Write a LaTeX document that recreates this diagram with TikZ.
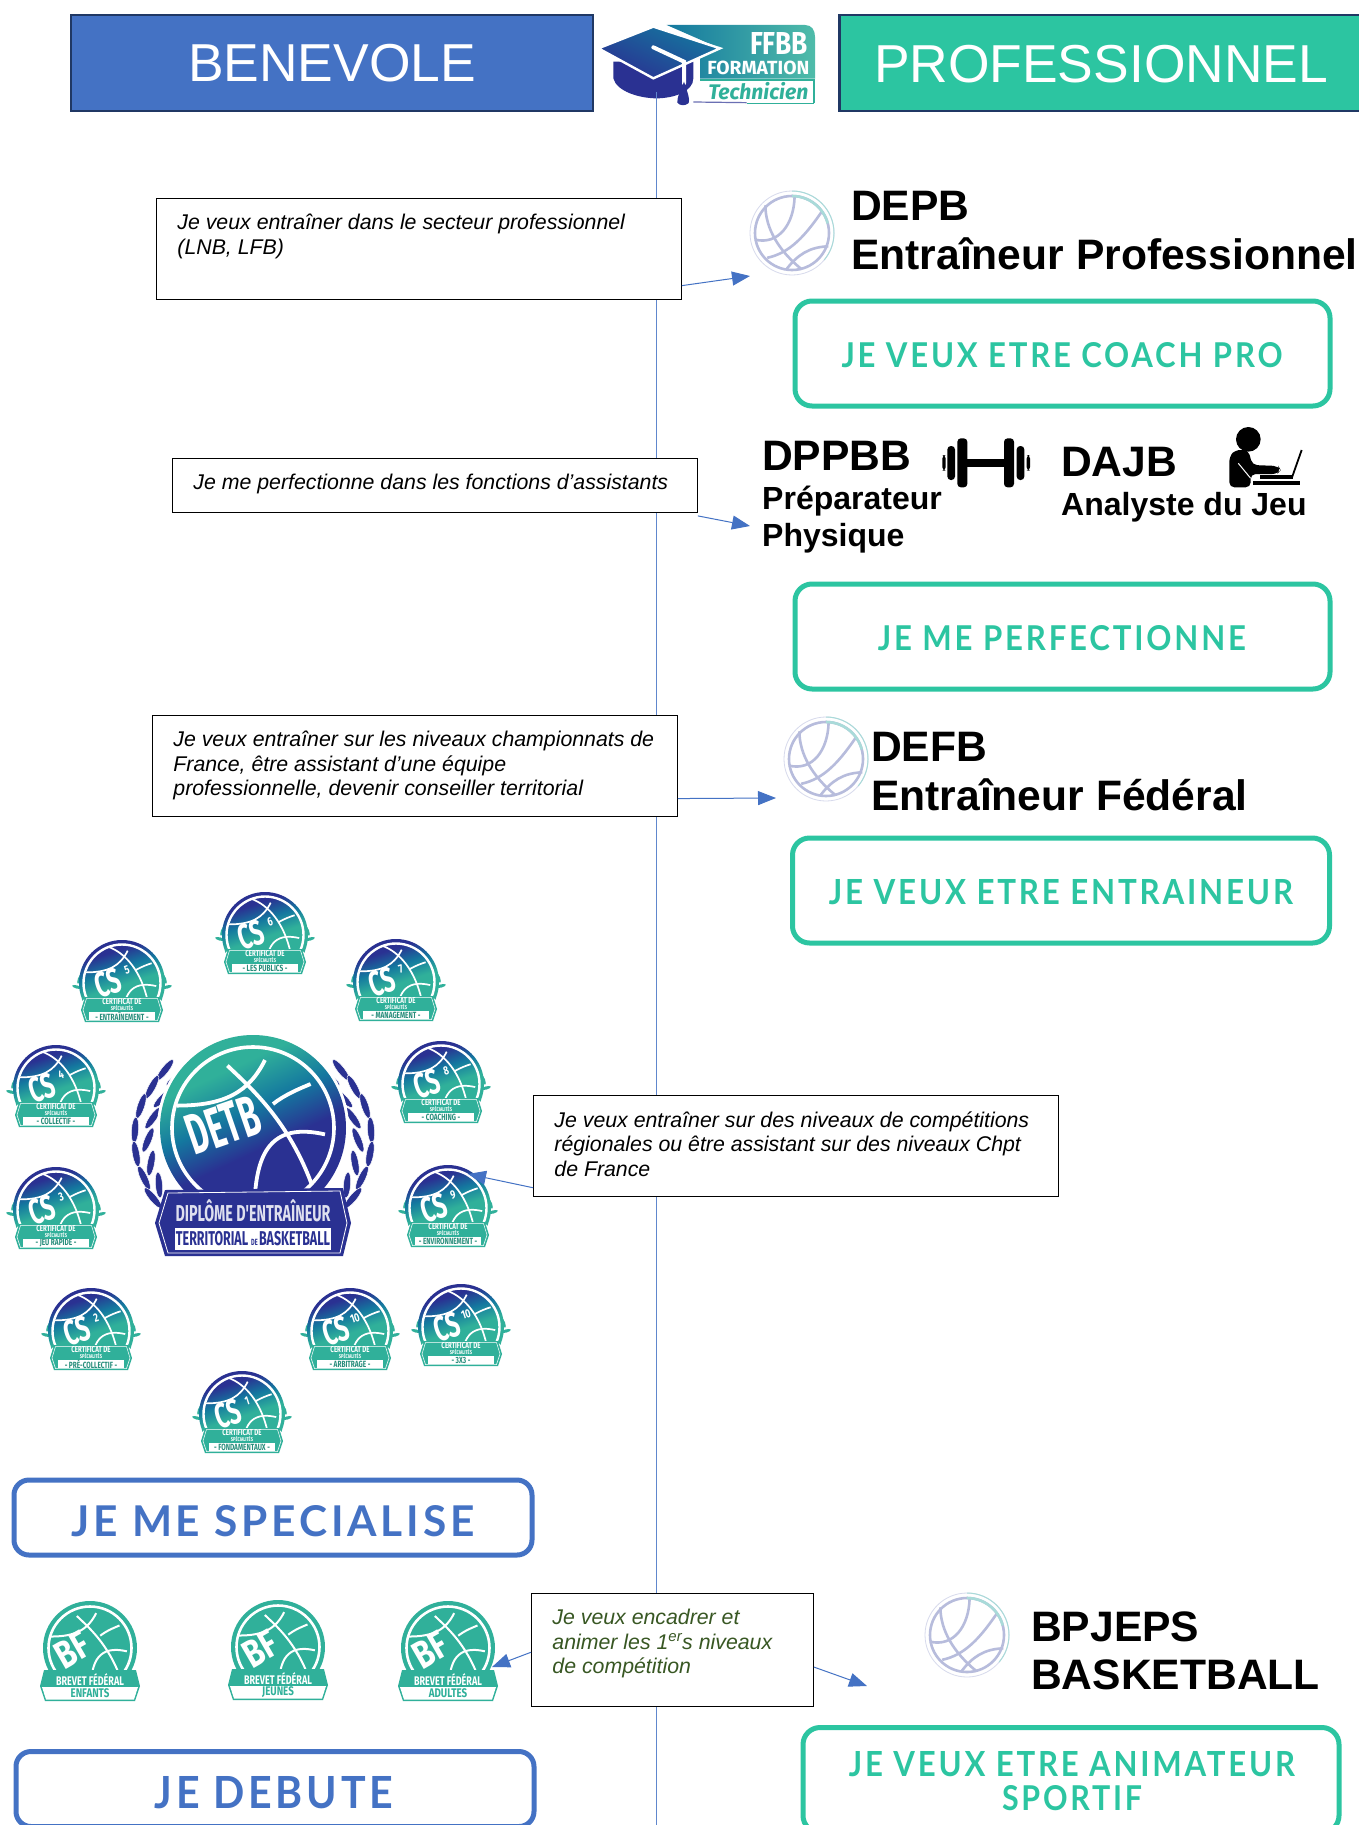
\documentclass[tikz,border=0pt]{standalone}
\usepackage{fontspec}
\usepackage{graphicx}
\usetikzlibrary{arrows.meta,calc}
\setmainfont{Liberation Sans}
\newfontfamily\btnf[LetterSpace=9]{Lato}
\newfontfamily\cond{Fira Sans}
\definecolor{hblue}{HTML}{4472C4}
\definecolor{hteal}{HTML}{2CC5A1}
\definecolor{hdark}{HTML}{203864}
\definecolor{bteal}{HTML}{30B09A}
\definecolor{bnavy}{HTML}{2A3192}
\definecolor{bmid}{HTML}{14789F}
\definecolor{gball}{HTML}{B7BCDC}
\definecolor{gteal}{HTML}{A9DBD9}
\definecolor{lgreen}{HTML}{385723}
\pgfdeclareverticalshading{csshade}{100bp}{color(0bp)=(bteal); color(49bp)=(bteal); color(59bp)=(bmid); color(69bp)=(bnavy); color(100bp)=(bnavy)}
\pgfdeclareverticalshading{detbshade}{100bp}{color(0bp)=(bnavy); color(44bp)=(bnavy); color(55bp)=(bmid); color(67bp)=(bteal); color(100bp)=(bteal)}
\newcommand{\fit}[3]{\resizebox{#1pt}{#2pt}{\btnf\bfseries #3}}
\newcommand{\fitw}[3]{\resizebox{#1pt}{\height}{\cond\fontsize{#2}{#2}\selectfont\bfseries #3}}
\newcommand{\mylabel}[2]{\scalebox{.72}[1]{\cond\fontsize{#1}{#1}\selectfont\bfseries #2}}
\newcommand{\ballseams}{%
  (-.32,-.78) .. controls (-.05,-.52) and (.45,-.1) .. (.75,.75)
  (.15,-.85) .. controls (-.05,-.45) and (-.35,-.28) .. (-.95,-.28)
  (.25,-.30) .. controls (.4,-.42) and (.6,-.5) .. (.72,-.55)
  (.02,.9) .. controls (.05,.35) and (.2,-.08) .. (.9,.08)}
\newcommand{\csseams}{%
  (-.35,-.95) .. controls (.05,-.8) and (.55,-.35) .. (.72,.7)
  (.15,-.85) .. controls (-.05,-.45) and (-.35,-.28) .. (-.95,-.28)
  (.38,-.35) .. controls (.5,-.42) and (.65,-.48) .. (.78,-.52)
  (.02,.9) .. controls (.05,.35) and (.2,-.08) .. (.9,.08)}
% CS badge: #1 name, #2 x, #3 y, #4 number, #5 label
\newcommand{\csbadge}[5]{%
\begin{scope}[shift={(#2,#3)}]
  \foreach \s in {-1,1}{
    \fill[bteal,rotate around={\s*15:(\s*45,4)}] (\s*45,4) ellipse (5 and 1.6);
    \fill[bteal,rotate around={\s*-70:(\s*42.5,-4)}] (\s*42.5,-4) ellipse (5 and 1.6);
    \fill[bteal,rotate around={\s*-75:(\s*38,12)}] (\s*38,12) ellipse (6 and 1.4);
  }
  \begin{scope}
    \clip (-50,-50) rectangle (50,15);
    \path[shading=csshade,shading angle=18] (0,0) circle (43);
    \draw[white,line width=2.4] (0,0) circle (38.5);
    \begin{scope}
      \clip (0,0) circle (38);
      \draw[white,line width=1.7,scale=38] \csseams;
    \end{scope}
  \end{scope}
  \fill[bteal] (-37,14) -- (37,14) -- (41,27) -- (37,39) -- (-37,39) -- (-41,27) -- cycle;
  \draw[white,line width=.5] (-35.5,15.5) -- (35.5,15.5) -- (39,27) -- (35.5,37.5) -- (-35.5,37.5) -- (-39,27) -- cycle;
  \fill[white] (-33,29) rectangle (33,37);
  \node[text=white,rotate=18,inner sep=0] (#1cs) at (-14,0) {\resizebox{26pt}{25pt}{\cond\bfseries CS}};
  \node[text=white,rotate=18,inner sep=0] (#1num) at (5,-13) {\scalebox{.75}[1]{\cond\fontsize{12}{12}\selectfont\bfseries #4}};
  \node[text=white,inner sep=0] (#1a) at (0,19) {\mylabel{8.5}{CERTIFICAT DE}};
  \node[text=white,inner sep=0] (#1b) at (0,25.3) {\mylabel{5.5}{SPÉCIALITÉS}};
  \node[text=bteal!80!black,inner sep=0] (#1c) at (0,33) {\mylabel{9}{- #5 -}};
\end{scope}}
% BF badge
\newcommand{\bfbadge}[4]{%
\begin{scope}[shift={(#2,#3)}]
  \begin{scope}
    \clip (-50,-50) rectangle (50,24);
    \fill[bteal] (0,0) circle (47);
    \draw[white,line width=2.6] (0,0) circle (41.5);
    \begin{scope}
      \clip (0,0) circle (41);
      \draw[white,line width=2,scale=41] \ballseams;
    \end{scope}
  \end{scope}
  \fill[bteal] (-46,22) -- (46,22) -- (50,38) -- (45,53) -- (-45,53) -- (-50,38) -- cycle;
  \fill[white] (-48,39) -- (48,39) -- (44,51.5) -- (-44,51.5) -- cycle;
  \node[text=white,rotate=30,inner sep=0] (#1bf) at (-18,2) {\resizebox{34pt}{27pt}{\cond\bfseries BF}};
  \node[text=white,inner sep=0] (#1a) at (0,31.5) {\mylabel{12.5}{BREVET FÉDÉRAL}};
  \node[text=bteal,inner sep=0] (#1b) at (0,45.5) {\scalebox{.78}[1]{\cond\fontsize{12.5}{12.5}\selectfont\bfseries #4}};
\end{scope}}
% pale ball
\newcommand{\paleball}[2]{%
\begin{scope}[shift={(#1,#2)}]
  \draw[gball!55,line width=.8] (0,0) circle (42);
  \draw[gball,line width=2.6] (0,0) circle (37);
  \draw[gteal,line width=1] (0,-42) arc[start angle=270,end angle=400,radius=42];
  \draw[gball,line width=2.6,scale=37]
    (-.72,-.75) .. controls (-.72,-.13) and (-.36,.48) .. (.26,.98)
    (.07,-.98) .. controls (.05,-.24) and (-.36,.33) .. (-1,.18)
    (.82,-.6) .. controls (.36,.07) and (-.05,.54) .. (-.67,.67)
    (-.15,.98) .. controls (.15,.59) and (.46,.38) .. (.98,.36);
  \draw[gteal,line width=2.6] (0,-37) arc[start angle=270,end angle=345,radius=37];
\end{scope}}
\tikzset{
  headbox/.style={draw=hdark,line width=2.8pt,inner sep=0,text=white,font=\fontsize{53.4}{53.4}\selectfont},
  tbox/.style={draw=black,fill=white,line width=.9pt,inner sep=0,anchor=north west},
  tealbtn/.style={draw=hteal,line width=5pt,rounded corners=17pt,inner sep=0},
  bluebtn/.style={draw=hblue,line width=5pt,rounded corners=15pt,inner sep=0},
  conn/.style={draw=hblue,line width=1pt,-{Triangle[length=18pt,width=14pt,fill=hblue]}},
  headtxt/.style={anchor=base west,inner sep=0,font=\bfseries\fontsize{42.6}{42.6}\selectfont},
  subtxt/.style={anchor=base west,inner sep=0,font=\bfseries\fontsize{32}{32}\selectfont},
}
\newcommand{\tboxt}[3]{\parbox[c][#1pt][t]{#2pt}{\vspace{16pt}\hspace*{21pt}\parbox[t]{#2pt}{\fontsize{21.3}{24.5}\selectfont\itshape\raggedright #3}}}
\begin{document}
\begin{tikzpicture}[x=1pt,y=-1pt]
\useasboundingbox[fill=white] (0,0) rectangle (1359,1825);
% ---------- logo
\begin{scope}[shift={(560,0)},x=.33333pt,y=-.33333pt]
  \path[left color=bmid,right color=bteal!85!white,rounded corners=0] (320,75) -- (735,75) .. controls (755,75) and (765,90) .. (765,110) -- (765,236) -- (420,236) -- (420,170) -- (480,145) -- cycle;
  \draw[bteal,line width=1.2pt,fill=white] (420,240) -- (762,240) -- (762,310);
  \draw[bteal,line width=1.2pt] (762,310) -- (560,310);
  \draw[bnavy!70,line width=1.2pt] (560,308) -- (400,306);
  \fill[bnavy] (160,185) -- (160,235) .. controls (170,275) and (240,295) .. (290,295) .. controls (340,295) and (400,275) .. (400,235) -- (400,185) -- cycle;
  \path[draw=white,line width=2.4pt,top color=bmid,bottom color=bnavy,shading angle=-25] (115,145) -- (280,80) -- (480,145) -- (280,235) -- cycle;
  \draw[white,line width=4pt,line cap=round] (280,142) -- (372,185) -- (372,250);
  \fill[bnavy] (372,245) .. controls (380,270) and (392,300) .. (385,310) .. controls (375,318) and (360,318) .. (352,308) .. controls (350,295) and (362,270) .. (372,245) -- cycle;
  \node[text=white,inner sep=0] (lgffbb) at (657,132) {\resizebox{58pt}{22pt}{\cond\bfseries FFBB}};
  \node[text=white,inner sep=0] (lgform) at (595,205) {\resizebox{102pt}{13.5pt}{\cond\bfseries FORMATION}};
  \node[text=bteal,inner sep=0] (lgtech) at (595,272) {\resizebox{100pt}{!}{\cond\bfseries\itshape Technicien}};
\end{scope}
% ---------- central line
\coordinate (linetop) at (656,92);
\coordinate (linebot) at (656,1825);
\draw[hblue!85,line width=.9pt] (linetop) -- (linebot);
% ---------- headers
\node[headbox,fill=hblue,minimum width=522,minimum height=96] (benevole) at (332,63) {\raisebox{-1pt}{BENEVOLE}};
\node[headbox,fill=hteal,minimum width=540,minimum height=96,anchor=west] (probox) at (838,63) {};
\node[inner sep=0,text=white,font=\fontsize{53.4}{53.4}\selectfont] (protxt) at (1101,64) {PROFESSIONNEL};
% ---------- text boxes
\node[tbox] (tb1) at (156,198) {\tboxt{101}{525}{Je veux entraîner dans le secteur professionnel\\(LNB, LFB)}};
\node[tbox] (tb2) at (172,458) {\tboxt{54}{525}{Je me perfectionne dans les fonctions d’assistants}};
\node[tbox] (tb3) at (152,715) {\tboxt{101}{525}{Je veux entraîner sur les niveaux championnats de\\France, être assistant d’une équipe\\professionnelle, devenir conseiller territorial}};
\node[tbox] (tb4) at (533,1095) {\tboxt{101}{525}{Je veux entraîner sur des niveaux de compétitions\\régionales ou être assistant sur des niveaux Chpt\\de France}};
\node[tbox,text=lgreen] (tb5) at (531,1593) {\tboxt{113}{282}{Je veux encadrer et\\animer les 1\textsuperscript{er}s niveaux\\de compétition}};
% ---------- balls + titles
\paleball{792}{233}
\node[headtxt] (t1a) at (851,220) {DEPB};
\node[headtxt] (t1b) at (851,269) {Entraîneur Professionnel};
\node[headtxt] (t2a) at (762,470) {DPPBB};
\node[subtxt] (t2b) at (762,509) {Préparateur};
\node[subtxt] (t2c) at (762,546) {Physique};
\node[headtxt] (t3a) at (1061,476) {DAJB};
\node[subtxt] (t3b) at (1061,515) {Analyste du Jeu};
\paleball{826}{759}
\node[headtxt] (t4a) at (871,761) {DEFB};
\node[headtxt] (t4b) at (871,810) {Entraîneur Fédéral};
\paleball{967}{1635}
\node[headtxt] (t5a) at (1031,1641) {BPJEPS};
\node[headtxt] (t5b) at (1031,1689) {BASKETBALL};
% ---------- dumbbell + analyst
\begin{scope}[shift={(920,410)},x=.33333pt,y=-.33333pt]
  \fill[black] (138,146) rectangle (256,170);
  \foreach \a/\b/\c/\d in {112/142/85/232,82/105/108/210,67/77/135/182,252/282/85/232,290/313/108/210,320/330/135/182}
    \fill[black,rounded corners=3.5pt] (\a,\c) rectangle (\b,\d);
  \fill[black] (985,88) circle (37);
  \fill[black,rounded corners=5pt] (928,232) -- (928,140) -- (945,120) -- (985,120) -- (997,165) -- (1075,168) -- (1082,180) -- (1072,192) -- (992,192) -- (992,232) -- cycle;
  \draw[white,line width=1pt] (955,160) -- (992,205);
  \fill[black] (1000,212) rectangle (1140,226);
  \fill[black] (1020,195) rectangle (1118,206);
  \draw[black,line width=1.8pt] (1115,205) -- (1145,120);
\end{scope}
% ---------- buttons
\node[tealbtn,minimum width=535,minimum height=105] (b1) at (1062.5,353.5) {};
\node[inner sep=0,text=hteal] (b1t) at (1062,355) {\fit{441}{25}{JE VEUX ETRE COACH PRO}};
\node[tealbtn,minimum width=535,minimum height=105] (b2) at (1062.5,636.5) {};
\node[inner sep=0,text=hteal] (b2t) at (1062,638) {\fit{368}{25}{JE ME PERFECTIONNE}};
\node[tealbtn,minimum width=537,minimum height=105] (b3) at (1061,890.5) {};
\node[inner sep=0,text=hteal] (b3t) at (1061,892) {\fit{464}{25}{JE VEUX ETRE ENTRAINEUR}};
\node[tealbtn,minimum width=536,minimum height=105] (b4) at (1071,1780) {};
\node[inner sep=0,text=hteal] (b4t) at (1072,1764) {\fit{446}{25}{JE VEUX ETRE ANIMATEUR}};
\node[inner sep=0,text=hteal] (b4u) at (1072,1798) {\fit{140}{25}{SPORTIF}};
\node[bluebtn,minimum width=518,minimum height=75] (b5) at (273,1517.5) {};
\node[inner sep=0,text=hblue] (b5t) at (273,1521) {\fit{403}{31}{JE ME SPECIALISE}};
\node[bluebtn,minimum width=518,minimum height=75] (b6) at (275,1789) {};
\node[inner sep=0,text=hblue] (b6t) at (274,1793) {\fit{238}{32}{JE DEBUTE}};
% ---------- CS badges
\csbadge{csa}{242}{1414}{1}{FONDAMENTAUX}
\csbadge{csb}{91}{1331}{2}{PRÉ-COLLECTIF}
\csbadge{csc}{56}{1210}{3}{JEU RAPIDE}
\csbadge{csd}{56}{1088}{4}{COLLECTIF}
\csbadge{cse}{122}{983}{5}{ENTRAÎNEMENT}
\csbadge{csf}{265}{935}{6}{LES PUBLICS}
\csbadge{csg}{396}{982}{7}{MANAGEMENT}
\csbadge{csh}{441}{1084}{8}{COACHING}
\csbadge{csi}{448}{1208}{9}{ENVIRONNEMENT}
\csbadge{csj}{350}{1331}{10}{ARBITRAGE}
\csbadge{csk}{461}{1327}{10}{3X3}
% ---------- BF badges
\bfbadge{bfa}{90}{1648}{ENFANTS}
\bfbadge{bfb}{278}{1647}{JEUNES}
\bfbadge{bfc}{448}{1648}{ADULTES}
% ---------- DETB
\begin{scope}[shift={(253,1128)}]
  \foreach \s in {-1,1}{
    \foreach \x/\y/\a in {88/-58/-52,101/-41/-62,112/-22/-72,118/2/-86,117/26/-100,109/50/-115,100/70/-130,
                          76/-50/-35,90/-30/-45,100/-10/-55,105/12/-68,102/35/-80,94/57/-95}{
      \path[fill=bnavy,draw=white,line width=.5,rotate around={\s*\a:(\s*\x,\y)}] (\s*\x,\y) ellipse (13 and 3.6);
    }
  }
  \begin{scope}
    \clip (-100,-100) rectangle (100,63);
    \fill[white] (0,0) circle (96);
    \path[shading=detbshade,shading angle=25] (0,0) circle (93);
    \draw[white,line width=3.6] (0,0) circle (81);
    \begin{scope}
      \clip (0,0) circle (80);
      \draw[white,line width=3.8,scale=80] \ballseams;
    \end{scope}
  \end{scope}
  \fill[bnavy] (-88,62) -- (90,60) -- (98,95) -- (90,128) -- (-88,128) -- (-98,95) -- cycle;
  \draw[white,line width=.8] (-85,65) -- (87,63) -- (94,95) -- (87,125) -- (-85,125) -- (-94,95) -- cycle;
  \fill[white] (-78,100) rectangle (78,122);
  \node[text=white,rotate=19,inner sep=0] (detbt) at (-30,-3) {\resizebox{74pt}{40pt}{\cond\bfseries DETB}};
  \node[text=white!85!bnavy,inner sep=0] (detba) at (0,83) {\fitw{155}{23}{DIPLÔME D'ENTRAÎNEUR}};
  \node[text=bnavy,inner sep=0] (detbb) at (0,111) {\fitw{154}{20}{TERRITORIAL \fontsize{9}{9}\selectfont DE \fontsize{20}{20}\selectfont BASKETBALL}};
\end{scope}
% ---------- connectors
\coordinate (t1) at (750,276);
\coordinate (t2) at (750,526);
\coordinate (t3) at (776,798);
\coordinate (t4) at (468,1174);
\coordinate (t5) at (492,1667);
\coordinate (t6) at (867,1686);
\draw[conn] ($(tb1.north east)!.86!(tb1.south east)$) -- (t1);
\draw[conn] (tb2.south east) ++(0,3) -- (t2);
\draw[conn] ($(tb3.north east)!.82!(tb3.south east)$) -- (t3);
\draw[conn] ($(tb4.north west)!.91!(tb4.south west)$) -- (t4);
\draw[conn] ($(tb5.north west)!.52!(tb5.south west)$) -- (t5);
\draw[conn] ($(tb5.north east)!.65!(tb5.south east)$) -- (t6);
\end{tikzpicture}
\end{document}
